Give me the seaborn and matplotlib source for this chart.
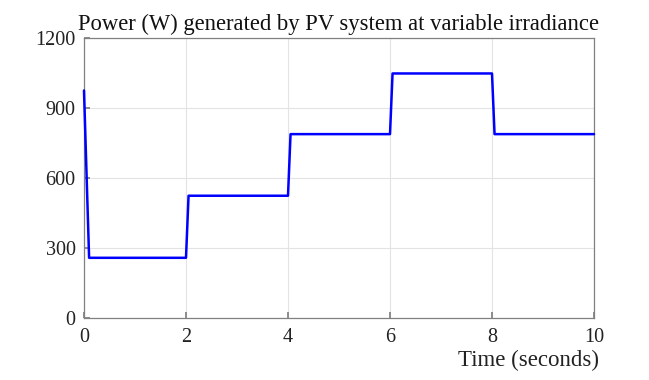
import numpy as np
import pandas as pd
import matplotlib
matplotlib.use('Agg')
import seaborn as sns
import matplotlib.pyplot as plt

# step profile
time_s = [0.0, 0.1, 2.0, 2.05, 4.0, 4.05, 6.0, 6.05, 8.0, 8.05, 10.0]
power_w = [975, 258, 258, 524, 524, 788, 788, 1048, 1048, 788, 788]
x_ticks = [0, 2, 4, 6, 8, 10]
y_ticks = [0, 300, 600, 900, 1200]

sns.set_theme(style="whitegrid")
plt.rcParams['font.family'] = ['Liberation Serif', 'DejaVu Serif']

df = pd.DataFrame({'t': time_s, 'p': power_w})

fig = plt.figure(figsize=(6.49, 3.80), dpi=100)
ax = fig.add_axes([84 / 649, 1 - 318 / 380, 510 / 649, 280 / 380])
sns.lineplot(data=df, x='t', y='p', ax=ax, color='#0000ff', lw=1.8,
             estimator=None, sort=False, zorder=5, clip_on=False)

ax.set_xlim(0, 10)
ax.set_ylim(0, 1200)
ax.set_xticks(x_ticks)
ax.set_yticks(y_ticks)
ax.grid(True, color='#e3e3e3', lw=0.8)
for s in ax.spines.values():
    s.set_color('#808080')
    s.set_linewidth(0.9)
    s.set_zorder(2)
ax.tick_params(axis='both', direction='in', length=4, color='#808080',
               labelsize=14.5, labelcolor='#222222',
               bottom=True, left=True)
ax.tick_params(axis='x', pad=7)
ax.tick_params(axis='y', pad=6)
ax.set_facecolor('white')

ax.set_title('Power (W) generated by PV system at variable irradiance',
             fontsize=16.3, color='#111111', pad=6)
ax.set_xlabel('Time (seconds)', fontsize=16.5, color='#222222')
ax.xaxis.set_label_coords(0.8725, -0.115)
ax.set_ylabel('')

fig.savefig('out.png', dpi=100)
